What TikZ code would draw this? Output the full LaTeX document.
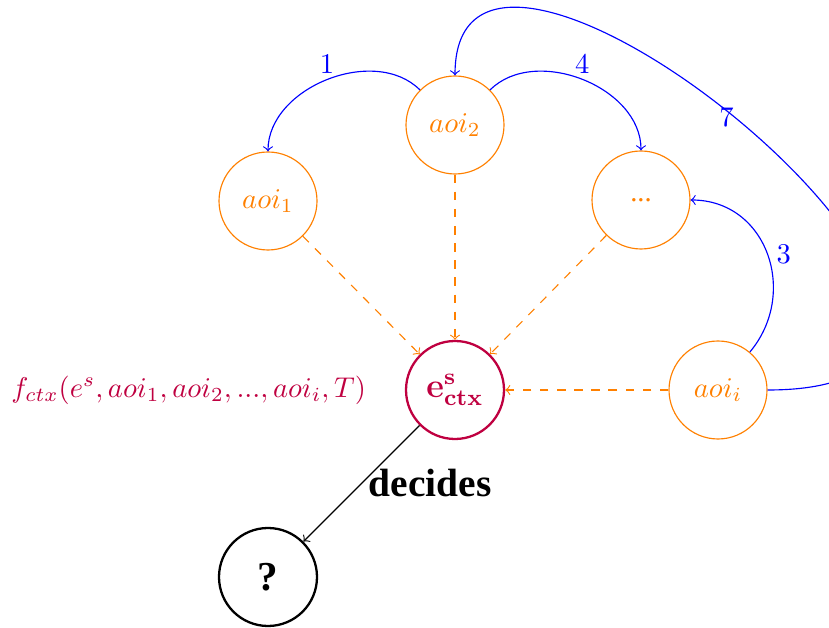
\documentclass[tikz,border=0pt]{standalone}
\usepackage[no-math]{fontspec}
\setmainfont{Liberation Serif}
\begin{document}
\begin{tikzpicture}[x=0.35pt, y=0.35pt,
  aoinode/.style={circle, draw=orange, text=orange, minimum size=34.3pt, inner sep=0pt},
  ctxnode/.style={circle, draw=purple, text=purple, thick, minimum size=34.3pt, inner sep=0pt},
  outnode/.style={circle, draw=black, thick, minimum size=34.3pt, inner sep=0pt},
  order/.style={->, blue},
  feeds/.style={->, orange, dashed},
  numlabel/.style={blue, inner sep=2pt}]
  \useasboundingbox (0,0) rectangle (829,-628);
  \clip (0,0) rectangle (829,-628);

  % areas of interest
  \node[aoinode] (aoi2) at (455,-125) {$aoi_2$};
  \node[aoinode] (aoi1) at (268,-201) {$aoi_1$};
  \node[aoinode] (dots) at (641,-200) {...};
  \node[aoinode] (aoii) at (718,-390) {$aoi_i$};

  % context embedding and its outcome
  \node[ctxnode] (ectx) at (455,-390) {\large$\mathbf{e^s_{ctx}}$};
  \node[outnode] (out) at (268,-577) {\Large\textbf{?}};
  \node[purple, anchor=east] (fctx) at (376,-390) {$f_{ctx}(e^s, aoi_1, aoi_2, ..., aoi_i, T)$};

  % visiting order
  \draw[order] (aoi2) to[out=135, in=90] node[numlabel, pos=0.5, above] {$1$} (aoi1);
  \draw[order] (aoi2) to[out=45, in=90] node[numlabel, pos=0.5, above] {$4$} (dots);
  \draw[order] (aoii) to[out=50, in=0, looseness=1.2] node[numlabel, pos=0.5, right, xshift=1pt] {$3$} (dots);
  \draw[order] (aoii.east) .. controls +(385,0) and +(0,260) .. node[numlabel, pos=0.5, above left, inner sep=4pt, xshift=-3.5pt, yshift=-1pt] {$7$} (aoi2.north);

  % contributions to the context
  \draw[feeds] (aoi1) -- (ectx);
  \draw[feeds] (aoi2) -- (ectx);
  \draw[feeds] (dots) -- (ectx);
  \draw[feeds] (aoii) -- (ectx);

  \draw[->] (ectx) -- node[midway, right, xshift=-1pt] {\fontsize{13.8}{16}\selectfont\textbf{decides}} (out);
\end{tikzpicture}
\end{document}
